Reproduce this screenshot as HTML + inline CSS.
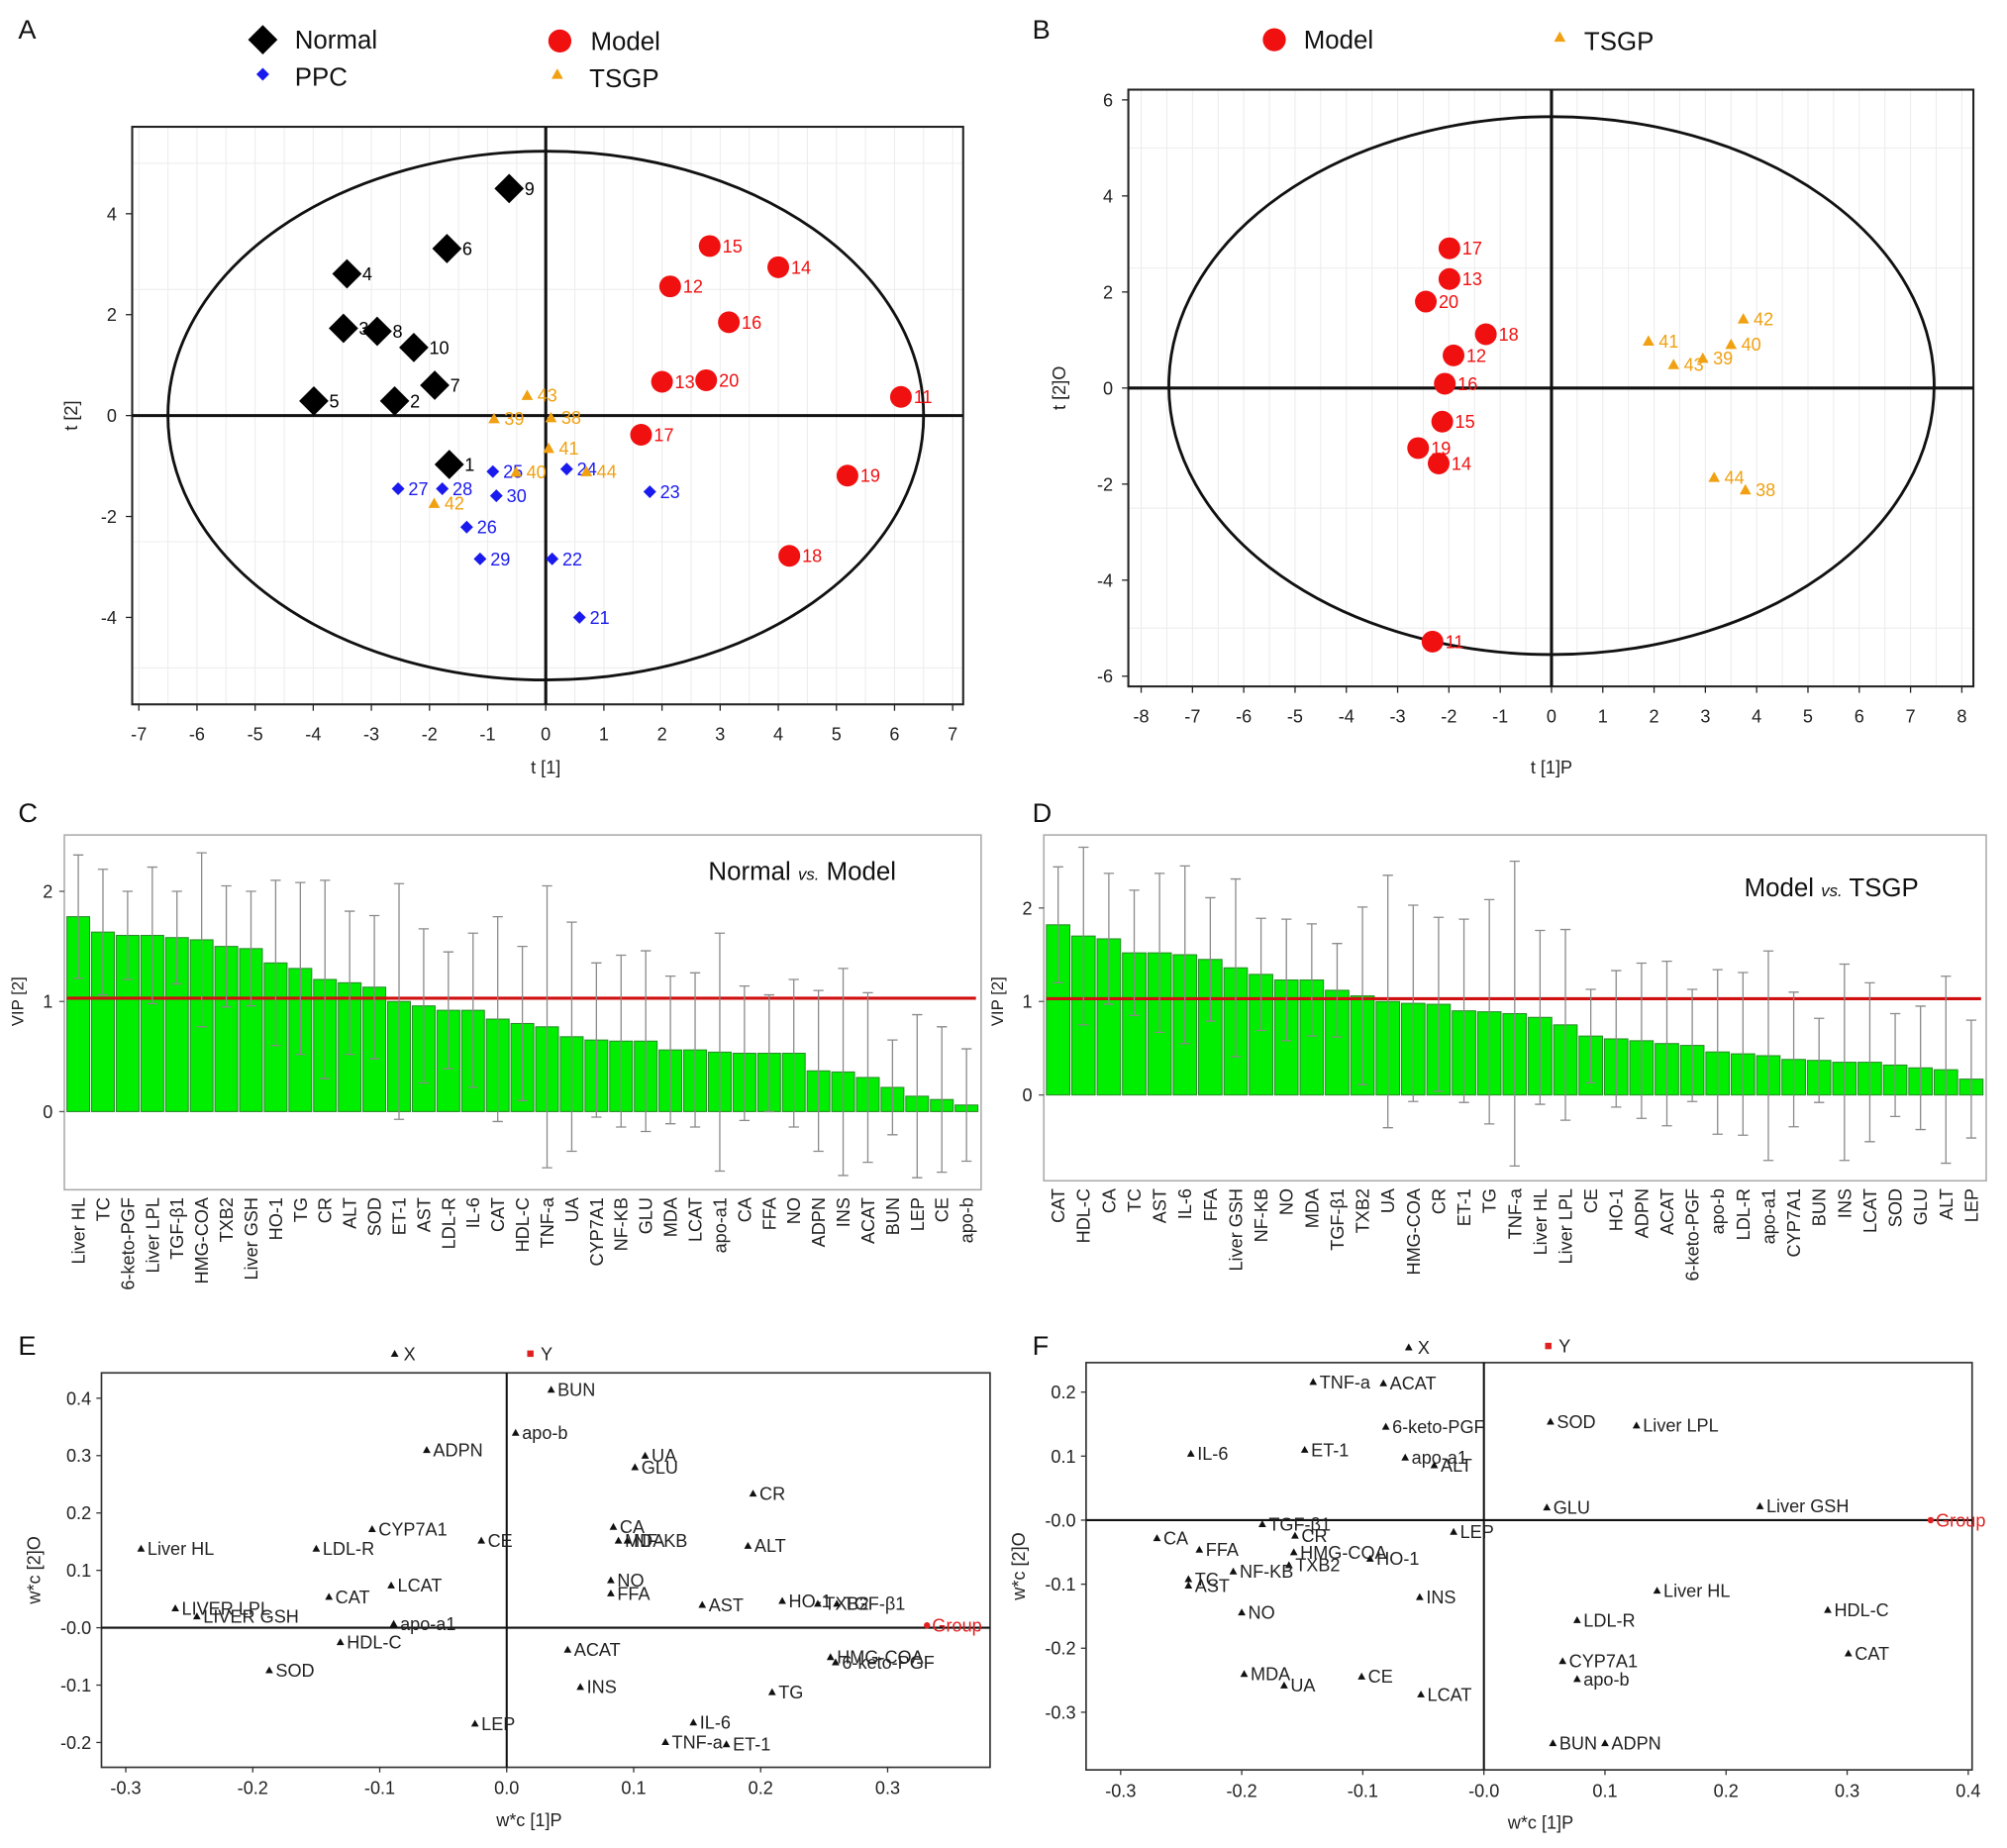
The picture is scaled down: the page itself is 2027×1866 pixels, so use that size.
<!DOCTYPE html>
<html><head><meta charset="utf-8"><style>
html,body{margin:0;padding:0;background:#fff}
svg{display:block}
text{font-family:"Liberation Sans",Arial,sans-serif}
</style></head><body>
<svg id="fig" xmlns="http://www.w3.org/2000/svg" width="2027" height="1866" viewBox="0 0 1567 1443">
<rect x="0" y="0" width="1567" height="1443" fill="#fff"/>
</svg>
<script>
// ---------- DATA ----------
// Panel A scores
const aNormalIds=["9","6","4","3","8","10","7","5","2","1"];
const aNormalX=[-0.63,-1.70,-3.42,-3.48,-2.90,-2.27,-1.91,-3.99,-2.60,-1.66];
const aNormalY=[4.5,3.31,2.81,1.73,1.67,1.35,0.60,0.29,0.29,-0.97];
const aModelIds=["15","14","12","16","13","20","11","17","19","18"];
const aModelX=[2.82,4.0,2.14,3.15,2.0,2.76,6.11,1.64,5.19,4.19];
const aModelY=[3.36,2.94,2.56,1.85,0.67,0.70,0.37,-0.38,-1.19,-2.78];
const aPpcIds=["25","24","27","28","30","23","26","29","22","21"];
const aPpcX=[-0.91,0.36,-2.54,-1.78,-0.85,1.79,-1.36,-1.13,0.11,0.58];
const aPpcY=[-1.11,-1.06,-1.45,-1.45,-1.59,-1.51,-2.21,-2.84,-2.84,-4.0];
const aTsgpIds=["43","39","38","41","40","44","42"];
const aTsgpX=[-0.32,-0.89,0.09,0.05,-0.51,0.70,-1.92];
const aTsgpY=[0.40,-0.06,-0.04,-0.65,-1.12,-1.11,-1.74];
const aXTicks=[-7,-6,-5,-4,-3,-2,-1,0,1,2,3,4,5,6,7];
const aYTicks=[-4,-2,0,2,4];
// Panel B scores
const bModelIds=["17","13","20","18","12","16","15","19","14","11"];
const bModelX=[-1.99,-1.99,-2.45,-1.28,-1.91,-2.08,-2.13,-2.60,-2.20,-2.32];
const bModelY=[2.91,2.27,1.80,1.12,0.68,0.09,-0.70,-1.25,-1.57,-5.28];
const bTsgpIds=["42","41","40","39","43","44","38"];
const bTsgpX=[3.74,1.89,3.50,2.95,2.38,3.17,3.78];
const bTsgpY=[1.44,0.98,0.91,0.62,0.49,-1.86,-2.12];
const bXTicks=[-8,-7,-6,-5,-4,-3,-2,-1,0,1,2,3,4,5,6,7,8];
const bYTicks=[-6,-4,-2,0,2,4,6];
// Panel C VIP
const cNames=["Liver HL","TC","6-keto-PGF","Liver LPL","TGF-β1","HMG-COA","TXB2","Liver GSH","HO-1","TG","CR","ALT","SOD","ET-1","AST","LDL-R","IL-6","CAT","HDL-C","TNF-a","UA","CYP7A1","NF-KB","GLU","MDA","LCAT","apo-a1","CA","FFA","NO","ADPN","INS","ACAT","BUN","LEP","CE","apo-b"];
const cVals=[1.77,1.63,1.6,1.6,1.58,1.56,1.5,1.48,1.35,1.3,1.2,1.17,1.13,1.0,0.96,0.92,0.92,0.84,0.8,0.77,0.68,0.65,0.64,0.64,0.56,0.56,0.54,0.53,0.53,0.53,0.37,0.36,0.31,0.22,0.14,0.11,0.06];
const cErr=[0.56,0.57,0.4,0.62,0.42,0.79,0.55,0.52,0.75,0.78,0.9,0.65,0.65,1.07,0.7,0.53,0.7,0.93,0.7,1.28,1.04,0.7,0.78,0.82,0.67,0.7,1.08,0.61,0.53,0.67,0.73,0.94,0.77,0.43,0.74,0.66,0.51];
const cThreshold=1.03;
const cYTicks=[0,1,2];
// Panel D VIP
const dNames=["CAT","HDL-C","CA","TC","AST","IL-6","FFA","Liver GSH","NF-KB","NO","MDA","TGF-β1","TXB2","UA","HMG-COA","CR","ET-1","TG","TNF-a","Liver HL","Liver LPL","CE","HO-1","ADPN","ACAT","6-keto-PGF","apo-b","LDL-R","apo-a1","CYP7A1","BUN","INS","LCAT","SOD","GLU","ALT","LEP"];
const dVals=[1.82,1.7,1.67,1.52,1.52,1.5,1.45,1.36,1.29,1.23,1.23,1.12,1.06,1.0,0.98,0.97,0.9,0.89,0.87,0.83,0.75,0.63,0.6,0.58,0.55,0.53,0.46,0.44,0.42,0.38,0.37,0.35,0.35,0.32,0.29,0.27,0.17];
const dErr=[0.62,0.95,0.7,0.67,0.85,0.95,0.66,0.95,0.6,0.65,0.6,0.5,0.95,1.35,1.05,0.93,0.98,1.2,1.63,0.93,1.02,0.5,0.73,0.83,0.88,0.6,0.88,0.87,1.12,0.72,0.45,1.05,0.85,0.55,0.66,1.0,0.63];
const dThreshold=1.03;
const dYTicks=[0,1,2];
// Panel E loadings
const eNames=["BUN","apo-b","ADPN","UA","GLU","CR","CA","CE","MDA","NF-KB","ALT","Liver HL","LDL-R","CYP7A1","LCAT","CAT","NO","FFA","AST","HO-1","TXB2","TGF-β1","LIVER LPL","LIVER GSH","apo-a1","HDL-C","ACAT","SOD","HMG-COA","6-keto-PGF","INS","TG","LEP","IL-6","TNF-a","ET-1"];
const eX=[0.035,0.007,-0.063,0.109,0.101,0.194,0.084,-0.02,0.088,0.095,0.19,-0.288,-0.15,-0.106,-0.091,-0.14,0.082,0.082,0.154,0.217,0.245,0.26,-0.261,-0.244,-0.089,-0.131,0.048,-0.187,0.255,0.259,0.058,0.209,-0.025,0.147,0.125,0.173];
const eY=[0.415,0.34,0.31,0.30,0.28,0.234,0.176,0.152,0.152,0.152,0.143,0.138,0.138,0.172,0.074,0.054,0.083,0.06,0.04,0.047,0.042,0.042,0.034,0.02,0.007,-0.025,-0.038,-0.074,-0.051,-0.06,-0.103,-0.112,-0.167,-0.165,-0.199,-0.203];
const eXTicks=[-0.3,-0.2,-0.1,0,0.1,0.2,0.3];
const eYTicks=[-0.2,-0.1,0,0.1,0.2,0.3,0.4];
const eXLabels=["-0.3","-0.2","-0.1","0.0","0.1","0.2","0.3"];
const eYLabels=["-0.2","-0.1","-0.0","0.1","0.2","0.3","0.4"];
// Panel F loadings
const fNames=["TNF-a","ACAT","SOD","Liver LPL","6-keto-PGF","IL-6","ET-1","apo-a1","ALT","GLU","Liver GSH","TGF-β1","CR","LEP","CA","FFA","HMG-COA","TXB2","NF-KB","TC","AST","HO-1","INS","Liver HL","HDL-C","NO","LDL-R","CYP7A1","CAT","apo-b","MDA","CE","UA","LCAT","BUN","ADPN"];
const fX=[-0.141,-0.083,0.055,0.126,-0.081,-0.242,-0.148,-0.065,-0.041,0.052,0.228,-0.183,-0.156,-0.025,-0.27,-0.235,-0.157,-0.161,-0.207,-0.244,-0.244,-0.094,-0.053,0.143,0.284,-0.2,0.077,0.065,0.301,0.077,-0.198,-0.101,-0.165,-0.052,0.057,0.1];
const fY=[0.216,0.214,0.154,0.148,0.146,0.104,0.11,0.098,0.086,0.02,0.022,-0.006,-0.024,-0.018,-0.028,-0.046,-0.05,-0.07,-0.08,-0.092,-0.102,-0.06,-0.12,-0.11,-0.14,-0.144,-0.156,-0.22,-0.208,-0.248,-0.24,-0.244,-0.258,-0.272,-0.348,-0.348];
const fXTicks=[-0.3,-0.2,-0.1,0,0.1,0.2,0.3,0.4];
const fYTicks=[-0.3,-0.2,-0.1,0,0.1,0.2];
const fXLabels=["-0.3","-0.2","-0.1","-0.0","0.1","0.2","0.3","0.4"];
const fYLabels=["-0.3","-0.2","-0.1","-0.0","0.1","0.2"];

// ---------- HELPERS ----------
const NS="http://www.w3.org/2000/svg";
const svg=document.getElementById('fig');
function mk(tag,attrs,parent){const e=document.createElementNS(NS,tag);for(const k in attrs)e.setAttribute(k,attrs[k]);(parent||svg).appendChild(e);return e;}
function txt(s,x,y,size,fill,anchor,parent){const t=mk('text',{x:x,y:y,'font-size':size,fill:fill||'#222','text-anchor':anchor||'start'},parent);t.textContent=s;return t;}
function grp(name){const g=mk('g',{});return g;}

function diamond(cx,cy,r,fill,g){return mk('polygon',{points:`${cx},${cy-r} ${cx+r},${cy} ${cx},${cy+r} ${cx-r},${cy}`,fill:fill},g);}
function tri(cx,cy,r,fill,g){return mk('polygon',{points:`${cx},${cy-r} ${cx+r},${cy+r*0.8} ${cx-r},${cy+r*0.8}`,fill:fill},g);}

// panel letters
[["A",14,30],["B",806,30],["C",14,642],["D",806,642],["E",14,1058],["F",806,1058]].forEach(p=>{
  const t=txt(p[0],p[1],p[2],21,'#111');
  
  
});

// ---------- SCORE PLOT ----------
function scorePlot(cfg){
  const g=grp(cfg.name);
  const sx=v=>cfg.x0+v*cfg.kx, sy=v=>cfg.y0-v*cfg.ky;
  // grid
  for(let v=cfg.xTicks[0];v<=cfg.xTicks[cfg.xTicks.length-1];v+=0.5){mk('line',{x1:sx(v),x2:sx(v),y1:cfg.box[1],y2:cfg.box[3],stroke:'#ececec','stroke-width':0.8},g);}
  [-2.5,2.5,5,-5].forEach(v=>{if(sy(v)>cfg.box[1]&&sy(v)<cfg.box[3])mk('line',{x1:cfg.box[0],x2:cfg.box[2],y1:sy(v),y2:sy(v),stroke:'#ececec','stroke-width':0.8},g);});
  const frame=mk('rect',{x:cfg.box[0],y:cfg.box[1],width:cfg.box[2]-cfg.box[0],height:cfg.box[3]-cfg.box[1],fill:'none',stroke:'#222','stroke-width':1.6},g);
  
  
  mk('line',{x1:sx(0),x2:sx(0),y1:cfg.box[1],y2:cfg.box[3],stroke:'#111','stroke-width':2.4},g);
  mk('line',{x1:cfg.box[0],x2:cfg.box[2],y1:sy(0),y2:sy(0),stroke:'#111','stroke-width':2.4},g);
  const el=mk('ellipse',{cx:sx(cfg.ecx),cy:sy(cfg.ecy),rx:cfg.erx*cfg.kx,ry:cfg.ery*cfg.ky,fill:'none',stroke:'#111','stroke-width':2.2},g);
  
  
  cfg.xTicks.forEach(v=>{mk('line',{x1:sx(v),x2:sx(v),y1:cfg.box[3],y2:cfg.box[3]+5,stroke:'#222'},g);
    const t=txt(String(v),sx(v),cfg.box[3]+28,14,'#222','middle',g);});
  cfg.yTicks.forEach(v=>{mk('line',{x1:cfg.box[0]-5,x2:cfg.box[0],y1:sy(v),y2:sy(v),stroke:'#222'},g);
    const t=txt(String(v),cfg.box[0]-12,sy(v)+5,14,'#222','end',g);});
  const xt=txt(cfg.xTitle,sx(0),cfg.xTitleY,14,'#222','middle',g);
  
  const yt=txt(cfg.yTitle,0,0,14,'#222','middle',g);yt.setAttribute('transform',`translate(${cfg.yTitleX},${sy(0)}) rotate(-90)`);
  
  cfg.series.forEach(s=>{
    s.xs.forEach((x,i)=>{
      const px=sx(x),py=sy(s.ys[i]);let m;
      if(s.shape==='bigdiamond')m=diamond(px,py,11.5,s.color,g);
      else if(s.shape==='circle')m=mk('circle',{cx:px,cy:py,r:8.5,fill:s.color},g);
      else if(s.shape==='diamond')m=diamond(px,py,5,s.color,g);
      else m=tri(px,py,4.5,s.color,g);
      
      
      const off=s.shape==='bigdiamond'?12:(s.shape==='circle'?10:8);
      const t=txt(s.ids[i],px+off,py+5,14,s.color,'start',g);
      
    });
  });
}
scorePlot({name:'panel-a-score-plot',x0:426,kx:45.4,y0:324.5,ky:39.4,box:[103,99,752,550],ecx:0,ecy:0,erx:6.5,ery:5.24,
  xTicks:aXTicks,yTicks:aYTicks,xTitle:'t [1]',xTitleY:604,yTitle:'t [2]',yTitleX:60,
  series:[{label:'normal',ids:aNormalIds,xs:aNormalX,ys:aNormalY,shape:'bigdiamond',color:'#000'},
    {label:'model',ids:aModelIds,xs:aModelX,ys:aModelY,shape:'circle',color:'#f01010'},
    {label:'ppc',ids:aPpcIds,xs:aPpcX,ys:aPpcY,shape:'diamond',color:'#1a1aee'},
    {label:'tsgp',ids:aTsgpIds,xs:aTsgpX,ys:aTsgpY,shape:'tri',color:'#f0a010'}]});
scorePlot({name:'panel-b-score-plot',x0:1211.5,kx:40.06,y0:303,ky:37.5,box:[881,70,1541,536],ecx:0,ecy:0.05,erx:7.46,ery:5.6,
  xTicks:bXTicks,yTicks:bYTicks,xTitle:'t [1]P',xTitleY:604,yTitle:'t [2]O',yTitleX:832,
  series:[{label:'model',ids:bModelIds,xs:bModelX,ys:bModelY,shape:'circle',color:'#f01010'},
    {label:'tsgp',ids:bTsgpIds,xs:bTsgpX,ys:bTsgpY,shape:'tri',color:'#f0a010'}]});

// legends
(function(){
  const g=grp('legend-a');
  let m=diamond(205,31,11.5,'#000',g);
  txt('Normal',230,38,20,'#111','start',g);
  m=mk('circle',{cx:437,cy:32,r:9,fill:'#f01010'},g);
  txt('Model',461,39,20,'#111','start',g);
  m=diamond(205,58,5,'#1a1aee',g);
  txt('PPC',230,67,20,'#111','start',g);
  m=tri(435,58,4.5,'#f0a010',g);
  txt('TSGP',460,68,20,'#111','start',g);
  const g2=grp('legend-b');
  m=mk('circle',{cx:995,cy:31,r:9,fill:'#f01010'},g2);
  txt('Model',1018,38,20,'#111','start',g2);
  m=tri(1218,29,4.5,'#f0a010',g2);
  txt('TSGP',1237,39,20,'#111','start',g2);
})();

// ---------- VIP BAR CHART ----------
function vipChart(cfg){
  const g=grp(cfg.name);
  const sy=v=>cfg.y0-v*cfg.ky;
  const fr=mk('rect',{x:cfg.box[0],y:cfg.box[1],width:cfg.box[2]-cfg.box[0],height:cfg.box[3]-cfg.box[1],fill:'#fff',stroke:'#aaa','stroke-width':1.2},g);
  
  const n=cfg.names.length;const step=(cfg.box[2]-cfg.box[0]-3)/n;
  cfg.vals.forEach((v,i)=>{
    const x=cfg.box[0]+2+i*step;
    const b=mk('rect',{x:x,y:sy(v),width:step-1.5,height:sy(0)-sy(v),fill:'#00ee00',stroke:'#2c8a2c','stroke-width':0.8},g);
    
    
  });
  const rl=mk('line',{x1:cfg.box[0]+2,x2:cfg.box[2]-4,y1:sy(cfg.thr),y2:sy(cfg.thr),stroke:'#d01010','stroke-width':2.4},g);
  
  cfg.vals.forEach((v,i)=>{
    const cx=cfg.box[0]+2+i*step+(step-1.5)/2;const e=cfg.err[i];
    const eb=mk('path',{d:`M${cx},${sy(v+e)}V${sy(v-e)}M${cx-4},${sy(v+e)}H${cx+4}M${cx-4},${sy(v-e)}H${cx+4}`,stroke:'#8a8a8a','stroke-width':1,fill:'none'},g);
    
    const t=txt(cfg.names[i],0,0,14,'#222','end',g);
    t.setAttribute('transform',`translate(${cx+5},${cfg.box[3]+6}) rotate(-90)`);
    
  });
  cfg.yTicks.forEach(v=>{mk('line',{x1:cfg.box[0]-4,x2:cfg.box[0],y1:sy(v),y2:sy(v),stroke:'#555'},g);
    const t=txt(String(v),cfg.box[0]-9,sy(v)+5,14,'#222','end',g);});
  const yt=txt('VIP [2]',0,0,13,'#222','middle',g);yt.setAttribute('transform',`translate(${cfg.box[0]-32},${sy(1)}) rotate(-90)`);
  
  const tt=mk('text',{x:cfg.titleX,y:cfg.titleY,'font-size':20,fill:'#111'},g);
  tt.innerHTML=cfg.t1+' <tspan font-size="13" font-style="italic">vs.</tspan> '+cfg.t2;
  
}
vipChart({name:'panel-c-vip-chart',names:cNames,vals:cVals,err:cErr,thr:cThreshold,yTicks:cYTicks,box:[50,652,766,929],y0:868,ky:86,titleX:553,titleY:687,t1:'Normal',t2:'Model'});
vipChart({name:'panel-d-vip-chart',names:dNames,vals:dVals,err:dErr,thr:dThreshold,yTicks:dYTicks,box:[815,652,1551,922],y0:855,ky:73,titleX:1362,titleY:700,t1:'Model',t2:'TSGP'});

// ---------- LOADING PLOT ----------
function loadPlot(cfg){
  const g=grp(cfg.name);
  const sx=v=>cfg.x0+v*cfg.kx, sy=v=>cfg.y0-v*cfg.ky;
  const fr=mk('rect',{x:cfg.box[0],y:cfg.box[1],width:cfg.box[2]-cfg.box[0],height:cfg.box[3]-cfg.box[1],fill:'none',stroke:'#333','stroke-width':1.3},g);
  
  mk('line',{x1:sx(0),x2:sx(0),y1:cfg.box[1],y2:cfg.box[3],stroke:'#111','stroke-width':1.6},g);
  mk('line',{x1:cfg.box[0],x2:cfg.box[2],y1:sy(0),y2:sy(0),stroke:'#111','stroke-width':1.6},g);
  cfg.xTicks.forEach((v,i)=>{mk('line',{x1:sx(v),x2:sx(v),y1:cfg.box[3],y2:cfg.box[3]+4,stroke:'#333'},g);
    const t=txt(cfg.xLabels[i],sx(v),cfg.box[3]+21,14,'#222','middle',g);});
  cfg.yTicks.forEach((v,i)=>{mk('line',{x1:cfg.box[0]-4,x2:cfg.box[0],y1:sy(v),y2:sy(v),stroke:'#333'},g);
    const t=txt(cfg.yLabels[i],cfg.box[0]-8,sy(v)+5,14,'#222','end',g);});
  const xt=txt('w*c [1]P',cfg.xTitleX,cfg.box[3]+46,14,'#222','middle',g);
  const yt=txt('w*c [2]O',0,0,14,'#222','middle',g);yt.setAttribute('transform',`translate(${cfg.box[0]-48},${(cfg.box[1]+cfg.box[3])/2}) rotate(-90)`);
  
  cfg.names.forEach((nm,i)=>{
    const px=sx(cfg.xs[i]),py=sy(cfg.ys[i]);
    const m=tri(px,py,3,'#111',g);
    
    const t=txt(nm,px+5,py+5,14,'#222','start',g);
  });
  // X, Y, Group
  let m=tri(cfg.xPt[0],cfg.xPt[1],3,'#111',g);
  txt('X',cfg.xPt[0]+7,cfg.xPt[1]+5,14,'#222','start',g);
  m=mk('rect',{x:cfg.yPt[0]-2.5,y:cfg.yPt[1]-2.5,width:5,height:5,fill:'#e02020'},g);
  txt('Y',cfg.yPt[0]+8,cfg.yPt[1]+5,14,'#222','start',g);
  m=mk('circle',{cx:sx(cfg.grp[0]),cy:sy(cfg.grp[1]),r:2.5,fill:'#e02020'},g);
  const gt=txt('Group',sx(cfg.grp[0])+4,sy(cfg.grp[1])+5,14,'#e02020','start',g);
}
loadPlot({name:'panel-e-loading-plot',names:eNames,xs:eX,ys:eY,x0:395.5,kx:991.7,y0:1271,ky:448,box:[79,1072,773,1380],
  xTicks:eXTicks,yTicks:eYTicks,xLabels:eXLabels,yLabels:eYLabels,xTitleX:413,xPt:[308,1057],yPt:[414,1057],grp:[0.331,0.004]});
loadPlot({name:'panel-f-loading-plot',names:fNames,xs:fX,ys:fY,x0:1158.7,kx:945.7,y0:1187,ky:500,box:[848,1064,1540,1382],
  xTicks:fXTicks,yTicks:fYTicks,xLabels:fXLabels,yLabels:fYLabels,xTitleX:1203,xPt:[1100,1052],yPt:[1209,1051],grp:[0.369,0]});
</script>
</body></html>
